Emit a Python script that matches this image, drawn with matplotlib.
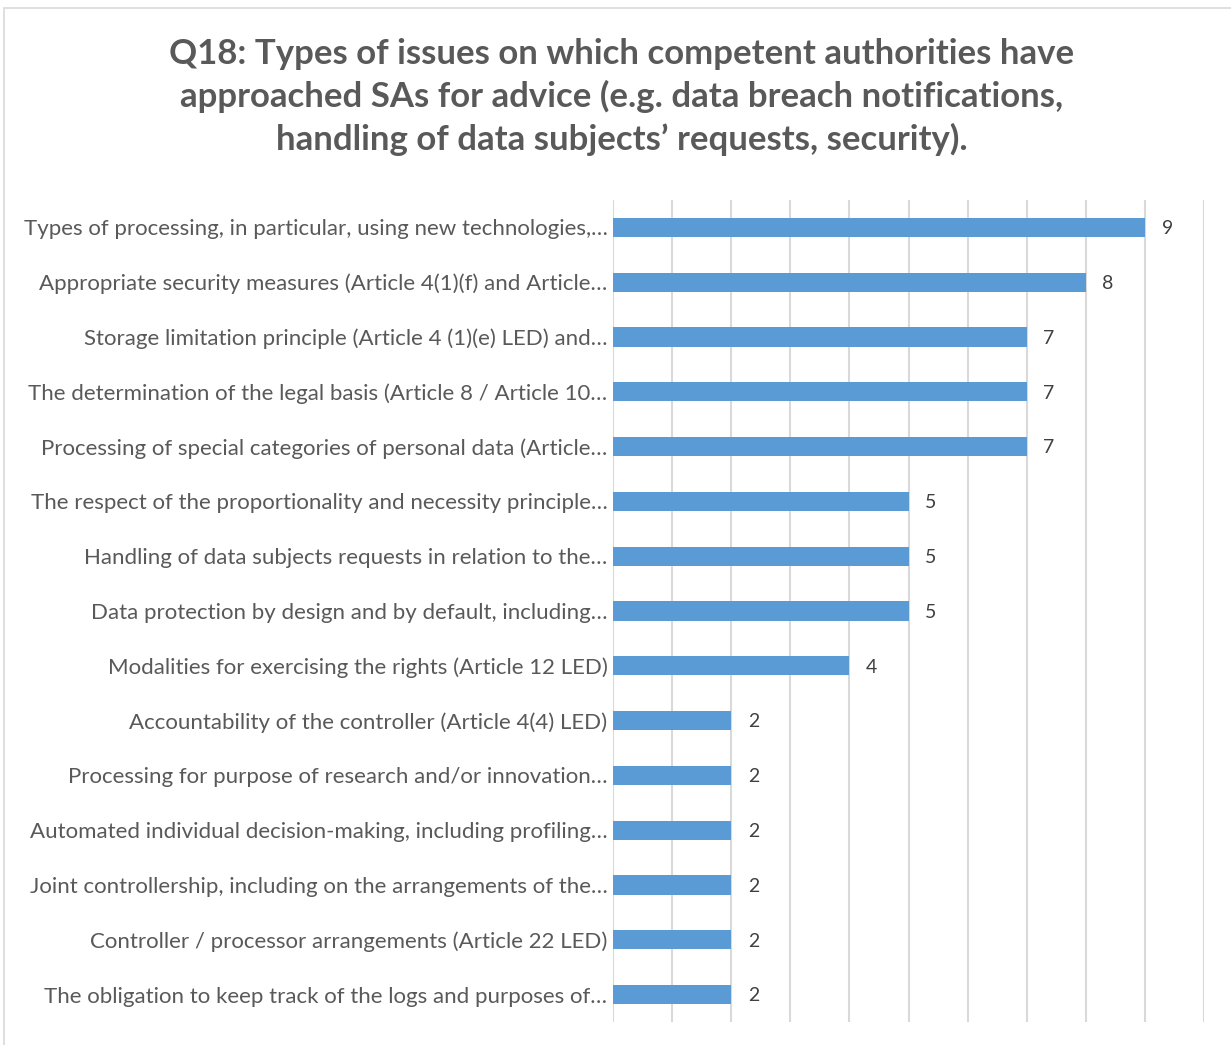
import matplotlib
matplotlib.use("Agg")
import matplotlib.pyplot as plt
from matplotlib.patches import Rectangle

categories = [
    "Types of processing, in particular, using new technologies,…",
    "Appropriate security measures (Article 4(1)(f) and Article…",
    "Storage limitation principle (Article 4 (1)(e) LED) and…",
    "The determination of the legal basis (Article 8 / Article 10…",
    "Processing of special categories of personal data (Article…",
    "The respect of the proportionality and necessity principle…",
    "Handling of data subjects requests in relation to the…",
    "Data protection by design and by default, including…",
    "Modalities for exercising the rights (Article 12 LED)",
    "Accountability of the controller (Article 4(4) LED)",
    "Processing for purpose of research and/or innovation…",
    "Automated individual decision-making, including profiling…",
    "Joint controllership, including on the arrangements of the…",
    "Controller / processor arrangements (Article 22 LED)",
    "The obligation to keep track of the logs and purposes of…",
]
values = [9, 8, 7, 7, 7, 5, 5, 5, 4, 2, 2, 2, 2, 2, 2]
title = ("Q18: Types of issues on which competent authorities have\n"
         "approached SAs for advice (e.g. data breach notifications,\n"
         "handling of data subjects’ requests, security).")

plt.rcParams['font.family'] = ['Lato', 'DejaVu Sans']

W, H = 1231, 1045
fig = plt.figure(figsize=(W / 100, H / 100), dpi=100)
fig.patch.set_facecolor("white")
fig.patches.append(Rectangle((4 / W, -0.05), 1.2, 1 - 8 / H + 0.05,
                             transform=fig.transFigure, fill=False,
                             edgecolor="#D9D9D9", linewidth=1.2))

ax = fig.add_axes([613 / W, 1 - 1022 / H, (1204 - 613) / W, (1022 - 200) / H])
n = len(categories)
ypos = list(range(n))
ax.barh(ypos, values, height=0.35, color="#5B9BD5", zorder=3)
ax.set_ylim(n - 0.5, -0.5)
ax.set_xlim(0, 10)
ax.set_xticks(range(0, 11))
ax.set_xticklabels([])
ax.tick_params(axis='x', length=0)
ax.tick_params(axis='y', length=0, pad=4)
ax.set_yticks(ypos)
ax.set_yticklabels(categories, fontsize=16, color="#595959")
ax.grid(axis='x', color="#D9D9D9", linewidth=1.5, zorder=0)
for s in ax.spines.values():
    s.set_visible(False)

for y, v in zip(ypos, values):
    ax.annotate(str(v), (v, y), xytext=(12, -1), textcoords="offset points",
                va="center", ha="left", fontsize=14, color="#404040")

fig.text(0.505, 1 - 97 / H, title, ha="center", va="center",
         fontsize=25, fontweight="bold", color="#595959", linespacing=1.38)

fig.savefig("out.png", dpi=100)
